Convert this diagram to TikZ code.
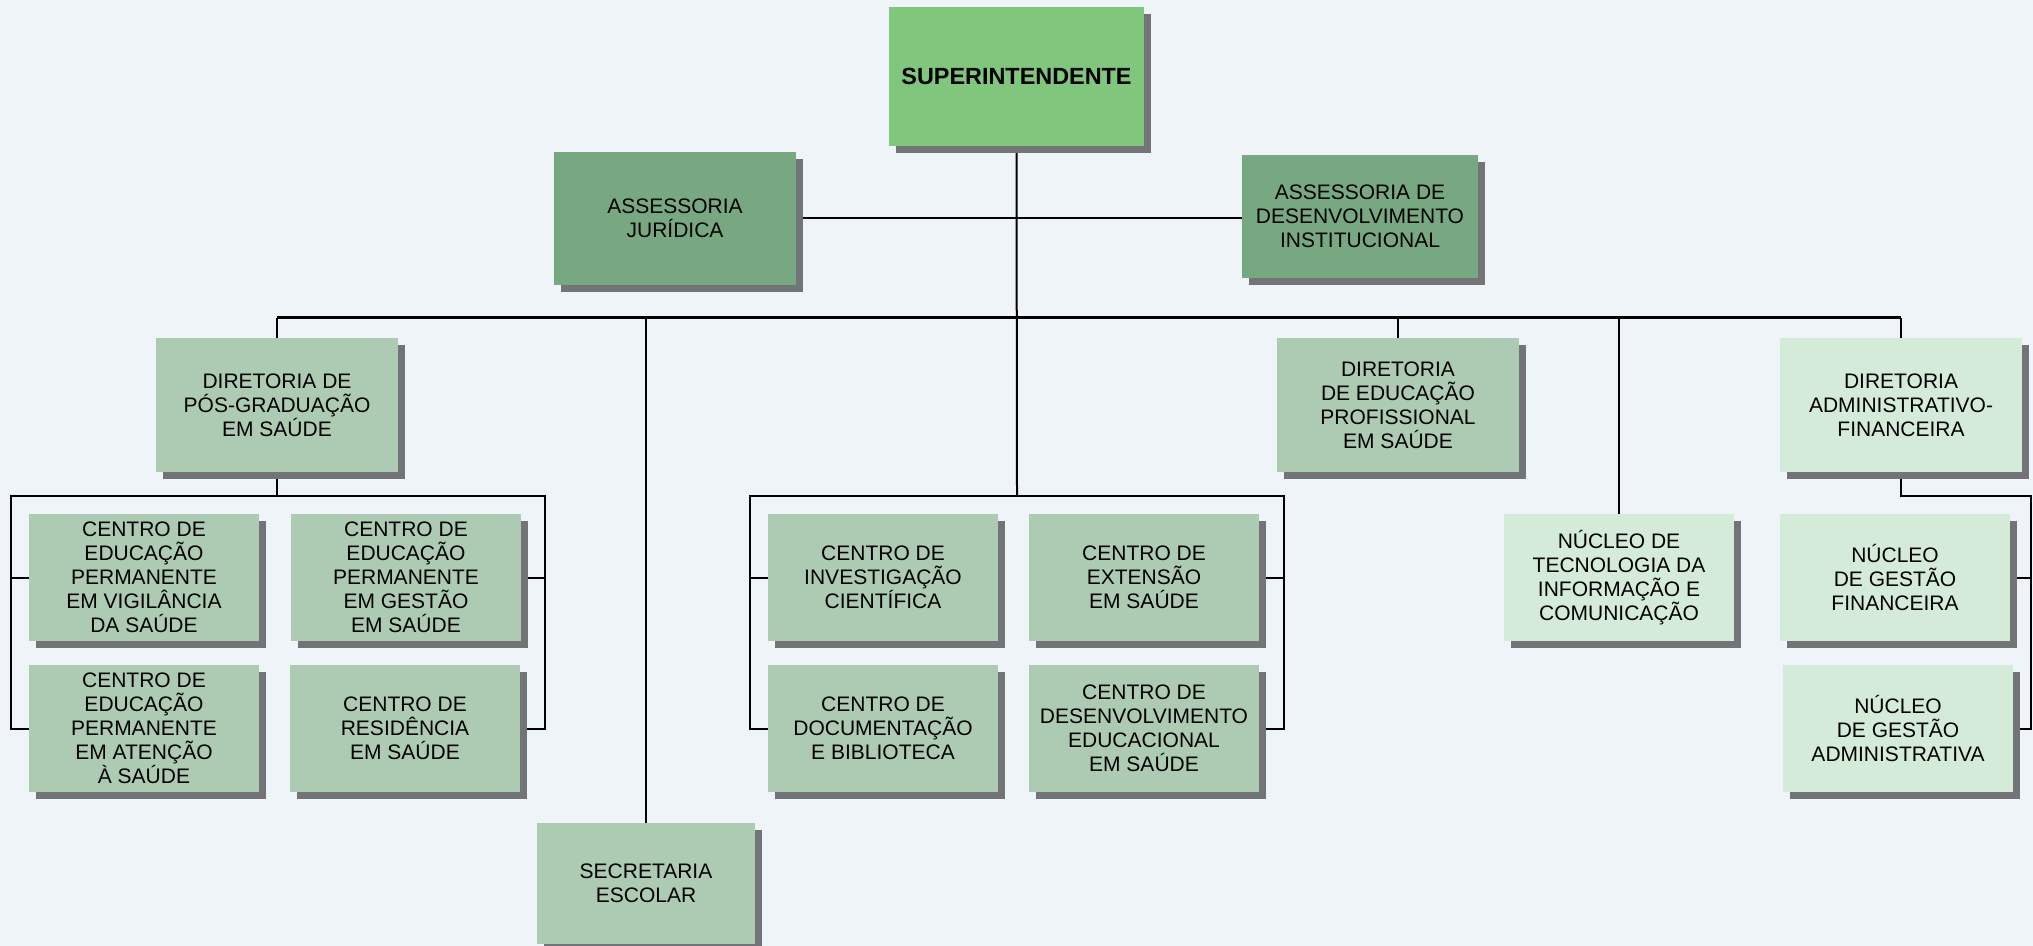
\documentclass[tikz,border=0pt]{standalone}
\usepackage{fontspec}
\setmainfont{Liberation Sans}
\usetikzlibrary{shadows}
\definecolor{bgc}{HTML}{EFF4F8}
\definecolor{supc}{HTML}{80C67C}
\definecolor{assc}{HTML}{78A882}
\definecolor{midc}{HTML}{ADCBB3}
\definecolor{lgtc}{HTML}{D5EBDA}
\definecolor{shc}{HTML}{737478}
\pgfdeclarelayer{bgfill}
\pgfdeclarelayer{lines}
\pgfsetlayers{bgfill,lines,main}
\tikzset{
  box/.style={draw=none, inner sep=0pt, align=center,
    font=\fontsize{10.5}{12}\selectfont,
    general shadow={fill=shc, shadow xshift=3.5pt, shadow yshift=-3.5pt}},
  supbox/.style={box, fill=supc, minimum width=127.5pt, minimum height=69.5pt,
    font=\fontsize{11.7}{13}\selectfont\bfseries},
  assbox/.style={box, fill=assc},
  dirbox/.style={box, fill=midc, minimum width=121pt, minimum height=67pt},
  dirlbox/.style={box, fill=lgtc, minimum width=121pt, minimum height=67pt},
  cbox/.style={box, fill=midc, minimum width=115pt, minimum height=63.5pt},
  nbox/.style={box, fill=lgtc, minimum width=115pt, minimum height=63.5pt},
  conn/.style={line width=1pt, black}
}
\begin{document}
\begin{tikzpicture}[x=0.5pt,y=-0.5pt]
\useasboundingbox (0,0) rectangle (2033,946);
\begin{pgfonlayer}{bgfill}
\fill[bgc] (0,0) rectangle (2033,946);
\end{pgfonlayer}

% top
\node[supbox] (sup) at (1016.5,76.5) {SUPERINTENDENTE};
\node[assbox, minimum width=121pt, minimum height=66.5pt] (aj) at (675,218.5) {ASSESSORIA\\JURÍDICA};
\node[assbox, minimum width=118pt, minimum height=61.5pt] (adi) at (1360,216.5) {ASSESSORIA DE\\DESENVOLVIMENTO\\INSTITUCIONAL};

% directorates
\node[dirbox] (dpg) at (277,405) {DIRETORIA DE\\PÓS-GRADUAÇÃO\\EM SAÚDE};
\node[dirbox] (dep) at (1398,405) {DIRETORIA\\DE EDUCAÇÃO\\PROFISSIONAL\\EM SAÚDE};
\node[dirlbox] (daf) at (1901,405) {DIRETORIA\\ADMINISTRATIVO-\\FINANCEIRA};

% left group
\node[cbox] (cv) at (144,577.5) {CENTRO DE\\EDUCAÇÃO\\PERMANENTE\\EM VIGILÂNCIA\\DA SAÚDE};
\node[cbox] (cg) at (406,577.5) {CENTRO DE\\EDUCAÇÃO\\PERMANENTE\\EM GESTÃO\\EM SAÚDE};
\node[cbox] (ca) at (144,728.5) {CENTRO DE\\EDUCAÇÃO\\PERMANENTE\\EM ATENÇÃO\\À SAÚDE};
\node[cbox] (cr) at (405,728.5) {CENTRO DE\\RESIDÊNCIA\\EM SAÚDE};

% middle group
\node[cbox] (cic) at (883,577.5) {CENTRO DE\\INVESTIGAÇÃO\\CIENTÍFICA};
\node[cbox] (cext) at (1144,577.5) {CENTRO DE\\EXTENSÃO\\EM SAÚDE};
\node[cbox] (cdoc) at (883,728.5) {CENTRO DE\\DOCUMENTAÇÃO\\E BIBLIOTECA};
\node[cbox] (cdes) at (1144,728.5) {CENTRO DE\\DESENVOLVIMENTO\\EDUCACIONAL\\EM SAÚDE};

% right
\node[nbox] (tic) at (1619,577.5) {NÚCLEO DE\\TECNOLOGIA DA\\INFORMAÇÃO E\\COMUNICAÇÃO};
\node[nbox] (ngf) at (1895,577.5) {NÚCLEO\\DE GESTÃO\\FINANCEIRA};
\node[nbox] (nga) at (1898,728.5) {NÚCLEO\\DE GESTÃO\\ADMINISTRATIVA};

% secretaria
\node[cbox, minimum width=109pt, minimum height=60.5pt] (sec) at (646,883.5) {SECRETARIA\\ESCOLAR};

% coordinates
\coordinate (busL) at (277,317.7);
\coordinate (busR) at (1901,317.7);
\coordinate (midtop) at (1017,496);
\coordinate (lbl) at (11,496);
\coordinate (lbr) at (545,496);
\coordinate (mbl) at (750,496);
\coordinate (mbr) at (1284,496);
\coordinate (rb) at (2031,496);
\coordinate (secx) at (646,317.7);
\coordinate (ticx) at (1619,317.7);

\begin{pgfonlayer}{lines}
% trunk
\draw[conn] (sup.south) -- (midtop);
\draw[conn] (aj.east) -- (aj.east -| adi.west);
\draw[conn, line width=1.2pt] (busL) -- (busR);
\draw[conn] (busL) -- (dpg.north);
\draw[conn] (secx) -- (sec.north);
\draw[conn] (dep.north |- busL) -- (dep.north);
\draw[conn] (ticx) -- (tic.north);
\draw[conn] (busR) -- (daf.north);
% left bracket
\draw[conn] (dpg.south) -- (dpg.south |- lbl);
\draw[conn] (ca.west) -| (lbl) -- (lbr) |- (cr.east);
\draw[conn] (cv.west) -- (cv.west -| lbl);
\draw[conn] (cg.east) -- (cg.east -| lbr);
% middle bracket
\draw[conn] (cdoc.west) -| (mbl) -- (mbr) |- (cdes.east);
\draw[conn] (cic.west) -- (cic.west -| mbl);
\draw[conn] (cext.east) -- (cext.east -| mbr);
% right bracket
\draw[conn] (daf.south) |- (rb) |- (nga.east);
\draw[conn] (ngf.east) -- (ngf.east -| rb);
\end{pgfonlayer}
\end{tikzpicture}
\end{document}
